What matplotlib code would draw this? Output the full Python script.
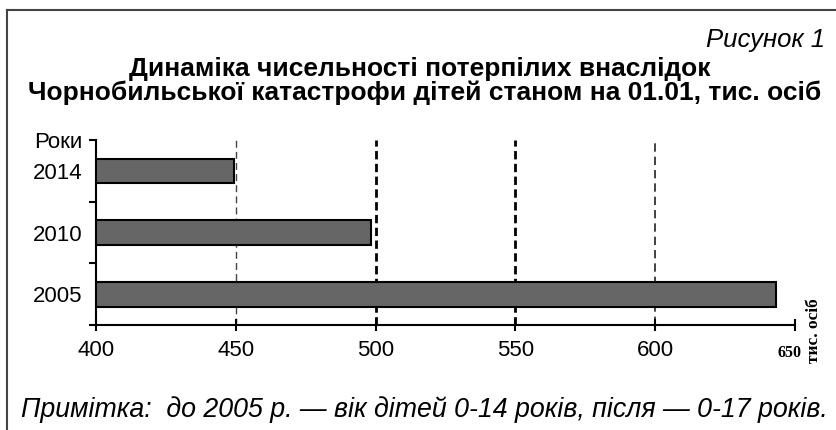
import matplotlib
matplotlib.use("Agg")
import matplotlib.pyplot as plt
from matplotlib.lines import Line2D

years = ["2014", "2010", "2005"]
values = [449.4, 498.5, 643.1]
xticks = [400, 450, 500, 550, 600, 650]
xtick_labels = ["400", "450", "500", "550", "600", ""]

SANS = ["Liberation Sans", "DejaVu Sans"]
SERIF = ["Liberation Serif", "DejaVu Serif"]

W, H = 837, 430
fig = plt.figure(figsize=(W/100, H/100), dpi=100)
ax = fig.add_axes([96/W, 1-325/H, (795-96)/W, (325-140)/H])

ypos = list(range(len(years)))
ax.barh(ypos, [v - 400 for v in values], left=400, height=0.4,
        color="#666666", edgecolor="black", linewidth=1.5, zorder=3)

ax.set_xlim(400, 650)
ax.set_ylim(2.5, -0.5)

# dashed gridlines
grid_styles = {450: (1.0, "#444444"), 500: (2.0, "black"), 550: (2.0, "black"), 600: (1.2, "#222222")}
for xv, (lw, c) in grid_styles.items():
    ax.axvline(xv, color=c, lw=lw, ls=(0, (5, 3)) if lw < 1.5 else (0, (3, 1.6)), zorder=1)

for s in ["top", "right"]:
    ax.spines[s].set_visible(False)
ax.spines["left"].set_linewidth(1.5)
ax.spines["bottom"].set_linewidth(1.5)

ax.set_xticks(xticks)
ax.set_xticklabels(xtick_labels, fontsize=16, family=SANS)
ax.tick_params(axis="x", direction="inout", length=8, width=1.5, pad=7)

ax.set_yticks(ypos)
ax.set_yticklabels(years, fontsize=16, family=SANS)
ax.tick_params(axis="y", which="major", length=0, pad=10)
ax.set_yticks([-0.5, 0.5, 1.5, 2.5], minor=True)
ax.tick_params(axis="y", which="minor", direction="out", length=5, width=1.5)

fig.text(82/W, 1-143/H, "Роки", ha="right", va="center", fontsize=16, family=SANS)

# special 650 label and unit
fig.text(790/W, 1-353/H, "650", ha="center", va="center", fontsize=11.5,
         family=SERIF, weight="bold")
fig.text(814/W, 1-331/H, "тис. осіб", ha="center", va="center", fontsize=12.5,
         family=SERIF, weight="bold", rotation=90)

# titles
fig.text(825/W, 1-47/H, "Рисунок 1", ha="right", va="baseline", fontsize=18.5,
         family=SANS, style="italic")
fig.text(420/W, 1-76/H, "Динаміка чисельності потерпілих внаслідок", ha="center",
         va="baseline", fontsize=19, family=SANS, weight="bold")
fig.text(425/W, 1-100/H, "Чорнобильської катастрофи дітей станом на 01.01, тис. осіб",
         ha="center", va="baseline", fontsize=19, family=SANS, weight="bold")
fig.text(424/W, 1-417/H,
         "Примітка:  до 2005 р. — вік дітей 0-14 років, після — 0-17 років.",
         ha="center", va="baseline", fontsize=19.3, family=SANS, style="italic")

# frame lines (top and left)
fig.add_artist(Line2D([7/W, 1], [1-10/H, 1-10/H], transform=fig.transFigure,
                      color="#444444", lw=1.5))
fig.add_artist(Line2D([7/W, 7/W], [0, 1-10/H], transform=fig.transFigure,
                      color="#444444", lw=1.5))

fig.savefig("out.png", dpi=100)
